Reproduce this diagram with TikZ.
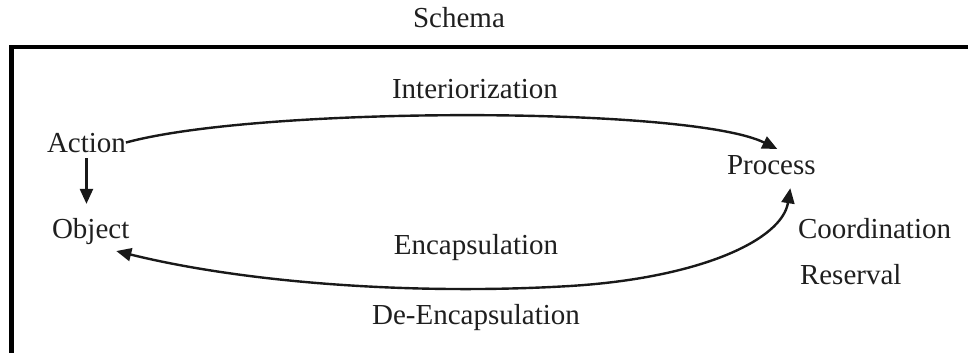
\documentclass[tikz,border=0pt]{standalone}
\usepackage{fontspec}
\setmainfont{Liberation Serif}
\usetikzlibrary{arrows.meta,calc}
\begin{document}
\begin{tikzpicture}[x=1pt,y=-1pt,
  lbl/.style={inner sep=0pt,outer sep=0pt,font=\fontsize{29}{34}\selectfont,text=black!88},
  arr/.style={line width=2.4pt,draw=black!90,-{Triangle[length=15pt,width=13pt]}},
  arrtwo/.style={line width=2.4pt,draw=black!90,{Triangle[length=15pt,width=13pt]}-{Triangle[length=15pt,width=13pt]}},
  frame/.style={line width=4.5pt,draw=black}]
\useasboundingbox (0,0) rectangle (968,353);
\fill[white] (0,0) rectangle (968,353);
\draw[frame] (968,47) -- (11.5,47) -- (11.5,353);
\node[lbl,anchor=base] (schema) at (459,28) {Schema};
\node[lbl,anchor=base] (inter) at (475,98) {Interiorization};
\node[lbl,anchor=base west] (action) at (47,152) {Action};
\node[lbl,anchor=base west] (object) at (52,238) {Object};
\node[lbl,anchor=base west] (process) at (727,174) {Process};
\node[lbl,anchor=base west] (coord) at (798,238) {Coordination};
\node[lbl,anchor=base west] (reserval) at (800,284) {Reserval};
\node[lbl,anchor=base] (encap) at (476,254) {Encapsulation};
\node[lbl,anchor=base] (deencap) at (476,324) {De-Encapsulation};
\draw[arr] ($(action.south)+(0,6)$) -- ($(action.south |- object.north)+(0,-14)$);
\draw[arr] (action.east) .. controls (260,106) and (690,106) .. ($(process.north)+(6,-6)$);
\draw[arrtwo] ($(object.east)+(-13,20)$) .. controls (250,284) and (420,295) .. (570,286)
  .. controls (700,278) and (782,240) .. ($(process.south)+(19,14)$);
\end{tikzpicture}
\end{document}
